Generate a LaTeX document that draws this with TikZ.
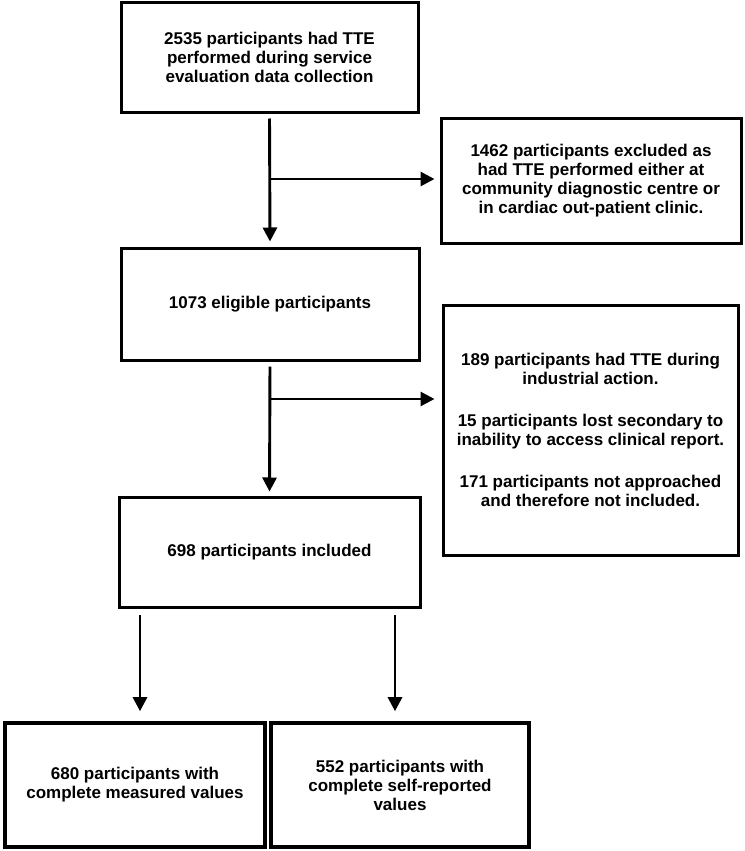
\documentclass[tikz,border=0pt]{standalone}
\usepackage{fontspec}
\setmainfont{Liberation Sans}
\usetikzlibrary{arrows.meta}
\begin{document}
\begin{tikzpicture}[x=1pt,y=-1pt,
  box/.style={draw=black,line width=3pt,fill=white,align=center,inner sep=0pt,
    font=\fontsize{17}{19}\selectfont\bfseries},
  lowbox/.style={box,line width=3.6pt},
  arr/.style={line width=2.9pt,-{Triangle[length=14pt,width=14pt]}}]
\useasboundingbox[fill=white] (0,0) rectangle (744,851);
\node[box,minimum width=297pt,minimum height=109pt] (b1) at (269.5,57.5)
  {2535 participants had TTE\\performed during service\\evaluation data collection};
\node[box,minimum width=300pt,minimum height=125pt] (b2) at (591,180.5)
  {1462 participants excluded as\\had TTE performed either at\\community diagnostic centre or\\in cardiac out-patient clinic.};
\node[box,minimum width=298pt,minimum height=112pt] (b3) at (270,304)
  {1073 eligible participants};
\node[box,minimum width=295pt,minimum height=250pt] (b4) at (590.5,430)
  {189 participants had TTE during\\industrial action.\\[23pt]15 participants lost secondary to\\inability to access clinical report.\\[23pt]171 participants not approached\\and therefore not included.};
\node[box,minimum width=301pt,minimum height=110pt] (b5) at (269.5,552)
  {698 participants included};
\node[lowbox,minimum width=260pt,minimum height=124pt] (b6) at (135,785)
  {680 participants with\\complete measured values};
\node[lowbox,minimum width=258pt,minimum height=124pt] (b7) at (400,785)
  {552 participants with\\complete self-reported\\values};
% connectors
\draw[arr,shorten <=5pt,shorten >=5pt] (b1.south) -- (b3.north);
\coordinate (j1) at (270,179);
\draw[arr,shorten >=5pt] (j1) -- (j1 -| b2.west);
\draw[arr,shorten <=5pt,shorten >=4pt] (b3.south) -- (b5.north);
\coordinate (j2) at (270,399);
\draw[arr,shorten >=7pt] (j2) -- (j2 -| b4.west);
\coordinate (s1) at (140,615);
\coordinate (s2) at (395,615);
\draw[arr,shorten >=10pt] (s1) -- (s1 |- b6.north);
\draw[arr,shorten >=10pt] (s2) -- (s2 |- b7.north);
\end{tikzpicture}
\end{document}
